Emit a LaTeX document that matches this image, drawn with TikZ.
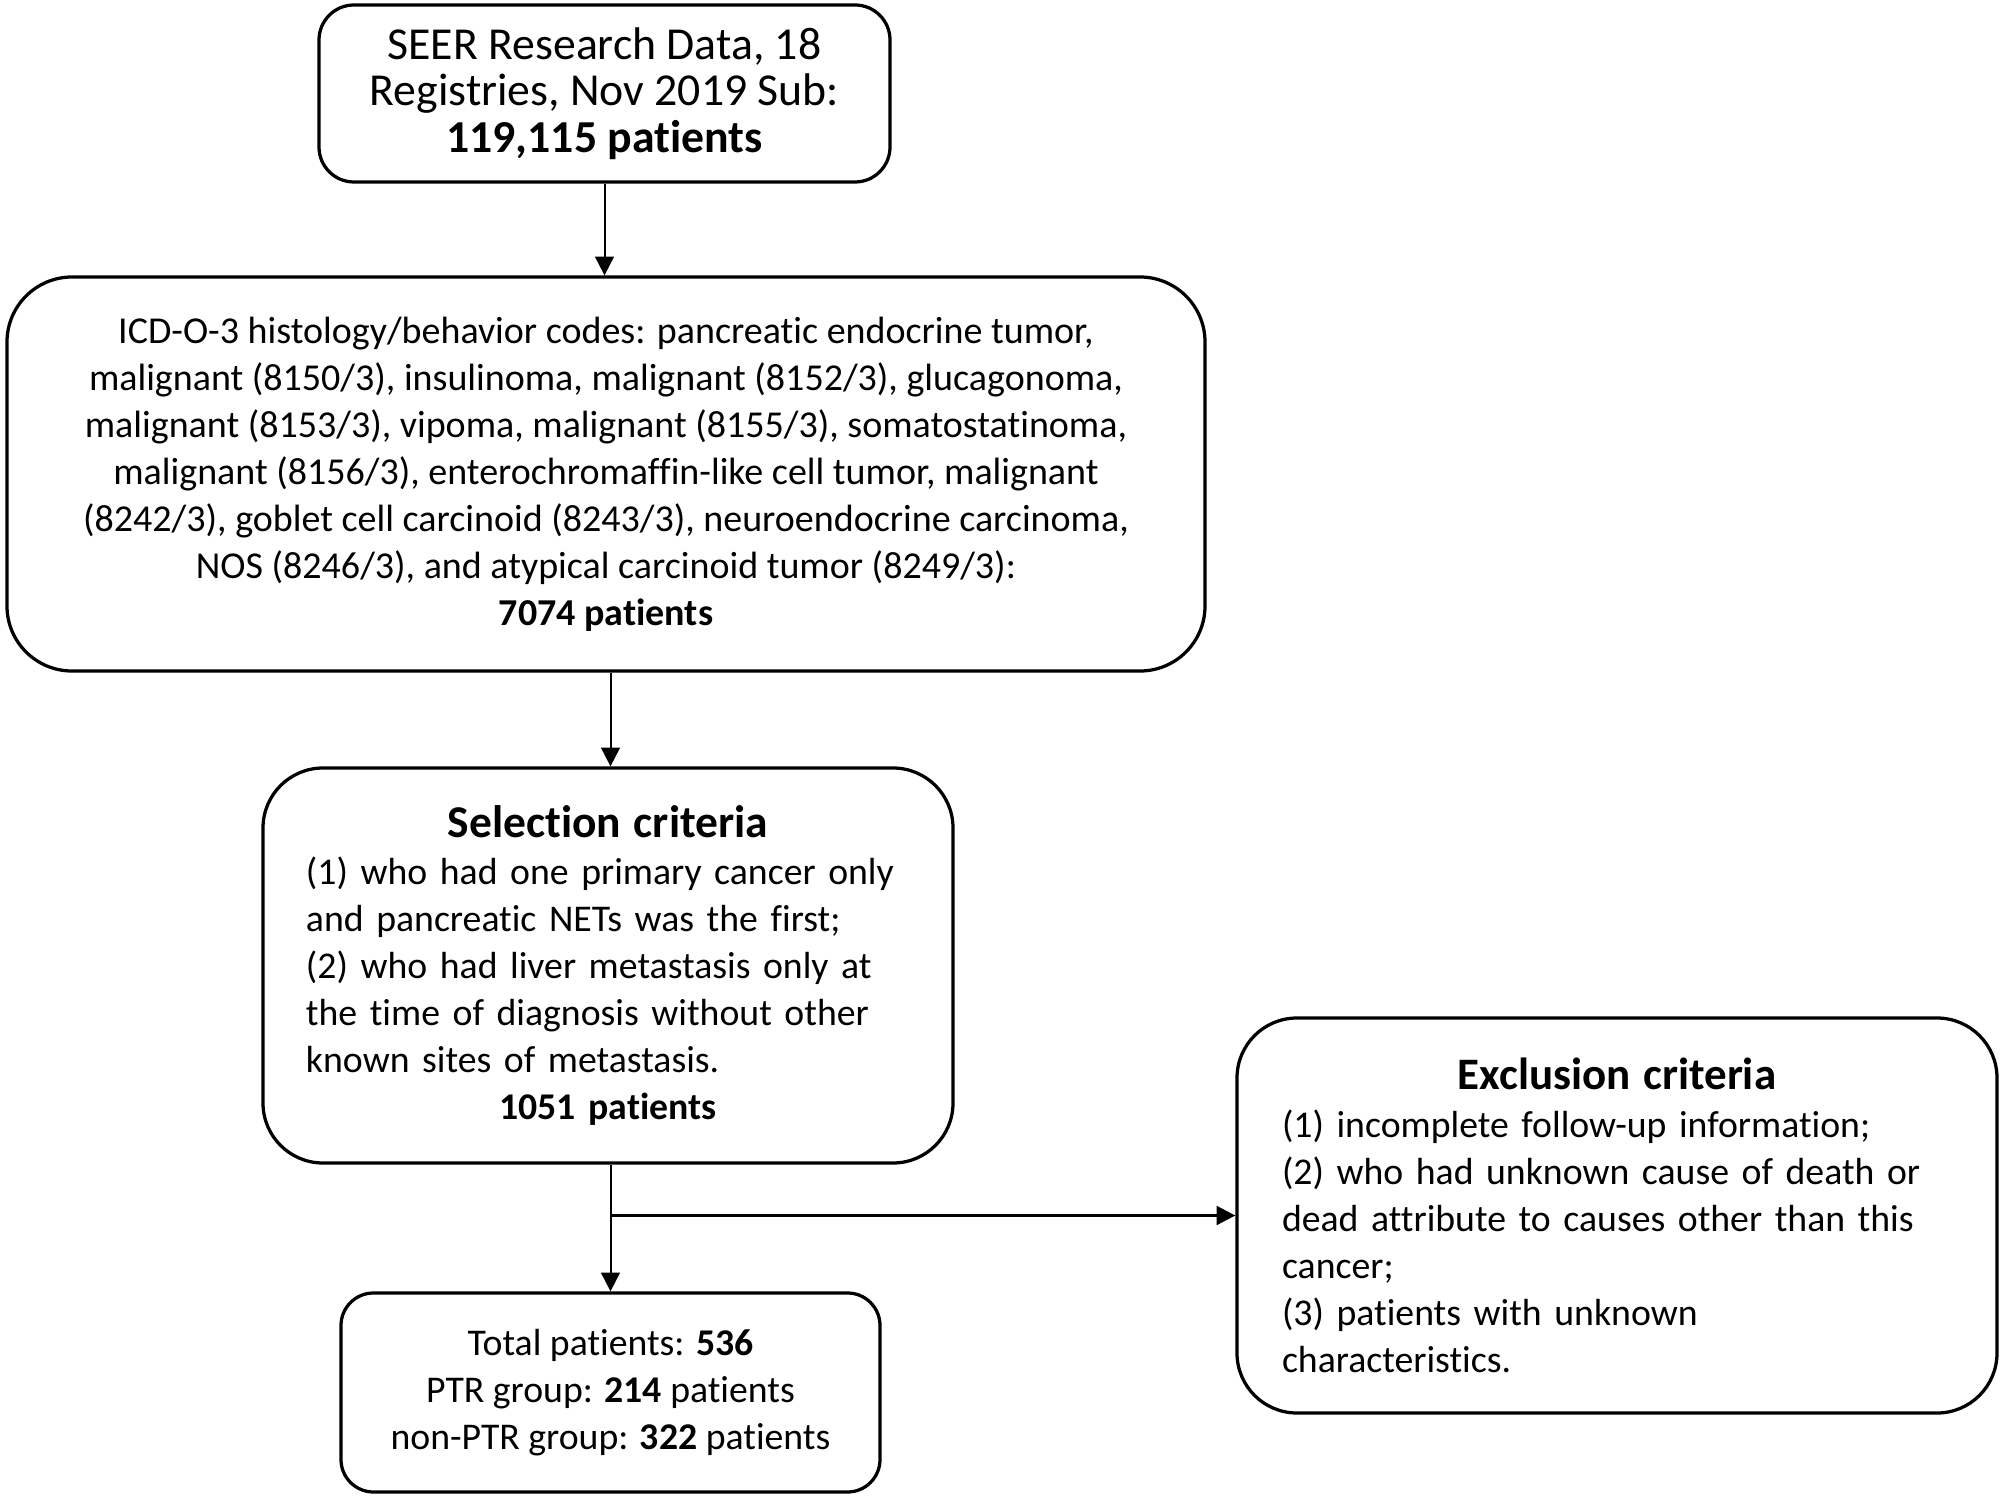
\documentclass[tikz,border=0pt]{standalone}
\usepackage{fontspec}
\setmainfont{Carlito}[Ligatures=NoCommon]
\usetikzlibrary{arrows.meta}
\begin{document}
\begin{tikzpicture}[x=0.4pt,y=-0.4pt,
  box/.style={draw=black, line width=1.3pt, inner sep=0pt},
  conn/.style={line width=0.8pt, -{Triangle[length=7.5pt,width=7.5pt]}},
  bodyfont/.style={font=\fontsize{15.1}{18.8}\selectfont},
]
\fill[white] (0,0) rectangle (2008,1498);
\useasboundingbox (0,0) rectangle (2008,1498);

\node[box, rounded corners=14pt, minimum width=228.4pt, minimum height=70.8pt, align=center,
  font=\fontsize{18.3}{18.5}\selectfont] (seer) at (604.5,93.5)
  {SEER Research Data, 18\\Registries, Nov 2019 Sub:\\\textbf{119,115 patients}};

\node[box, rounded corners=26pt, minimum width=479.2pt, minimum height=157.6pt, align=center,
  font=\fontsize{15.2}{18.8}\selectfont] (icd) at (606,474)
  {ICD-O-3 histology/behavior codes: pancreatic endocrine tumor,\\
   malignant (8150/3), insulinoma, malignant (8152/3), glucagonoma,\\
   malignant (8153/3), vipoma, malignant (8155/3), somatostatinoma,\\
   malignant (8156/3), enterochromaffin-like cell tumor, malignant\\
   (8242/3), goblet cell carcinoid (8243/3), neuroendocrine carcinoma,\\
   NOS (8246/3), and atypical carcinoid tumor (8249/3):\\
   \textbf{7074 patients}};

\node[box, rounded corners=24pt, minimum width=276pt, minimum height=158pt, inner xsep=17.2pt,
  text width=241.6pt, align=left, bodyfont] (sel) at (608,965.5)
  {{\centering\fontsize{18.2}{18.8}\selectfont\bfseries Selection criteria\par}\vspace{0.3pt}
   (1) who had one primary cancer only\\
   and pancreatic NETs was the first;\\
   (2) who had liver metastasis only at\\
   the time of diagnosis without other\\
   known sites of metastasis.\par
   {\centering\bfseries 1051 patients\par}};

\node[box, rounded corners=24pt, minimum width=304pt, minimum height=158pt, inner xsep=18pt,
  text width=268pt, align=left, bodyfont] (excl) at (1617,1215.5)
  {{\centering\fontsize{18.0}{18.8}\selectfont\bfseries Exclusion criteria\par}\vspace{0.5pt}
   (1) incomplete follow-up information;\\
   (2) who had unknown cause of death or\\
   dead attribute to causes other than this\\
   cancer;\\
   (3) patients with unknown\\
   characteristics.\par};

\node[box, rounded corners=13pt, minimum width=215.6pt, minimum height=79.6pt, align=center,
  bodyfont] (bot) at (610.5,1392.5)
  {Total patients: \textbf{536}\\
   PTR group: \textbf{214} patients\\
   non-PTR group: \textbf{322} patients};

\draw[conn] (seer.south) -- (seer.south |- icd.north);
\draw[conn] (bot.north |- icd.south) -- (bot.north |- sel.north);
\draw[conn] (bot.north |- sel.south) -- (bot.north);
\draw[conn, line width=1.1pt] (bot.north |- excl.west) -- (excl.west);
\end{tikzpicture}
\end{document}
